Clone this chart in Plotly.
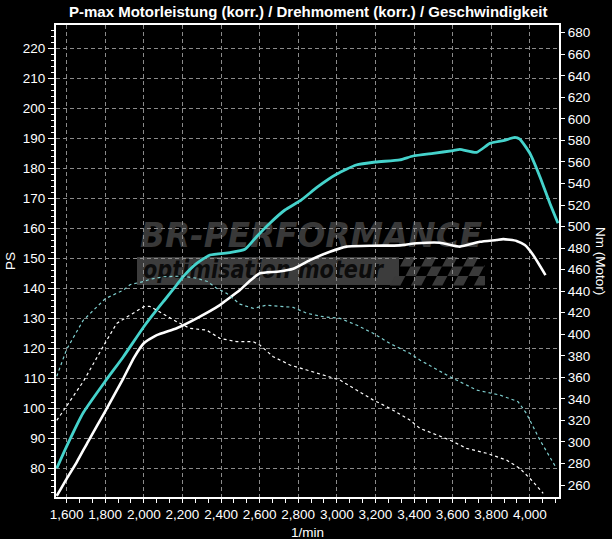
import base64
import plotly.graph_objects as go

# ---------------- data ----------------
rpm_tuned_power = [1549, 1600, 1686, 1800, 1894, 2000, 2084, 2108, 2170, 2204, 2274, 2343, 2446,
                   2524, 2584, 2653, 2731, 2815, 2900, 3000, 3100, 3200, 3326, 3395, 3499, 3603,
                   3637, 3724, 3793, 3862, 3922, 3948, 4000, 4052, 4104, 4146]
ps_tuned_power = [80.0, 87.3, 98.5, 109.0, 117.2, 127.2, 134.2, 136.1, 141.1, 143.9, 148.3, 151.1, 151.9,
                  153.0, 157.2, 161.7, 166.1, 169.4, 173.8, 178.1, 181.1, 182.1, 182.8, 184.1, 185.0, 185.9,
                  186.3, 185.3, 188.3, 189.2, 190.3, 189.7, 185.0, 177.2, 168.3, 161.7]

rpm_stock_power = [1549, 1600, 1652, 1712, 1800, 1894, 1950, 2000, 2067, 2170, 2274, 2394, 2429, 2498,
                   2550, 2601, 2700, 2774, 2861, 2964, 3051, 3188, 3326, 3413, 3534, 3637, 3741,
                   3827, 3862, 3931, 3974, 4017, 4081]
ps_stock_power = [70.8, 76.5, 82.0, 89.0, 99.0, 110.0, 117.0, 121.7, 124.4, 126.7, 130.0, 134.4, 136.1, 139.4,
                  142.5, 145.0, 145.6, 146.5, 149.4, 152.2, 153.9, 154.2, 154.3, 155.0, 155.2, 153.9, 155.5,
                  156.1, 156.4, 155.8, 154.4, 151.1, 144.4]

rpm_tuned_torque = [1549, 1600, 1686, 1800, 1894, 1928, 2000, 2032, 2101, 2200, 2274, 2330, 2377, 2429,
                    2498, 2567, 2636, 2774, 2844, 2929, 3016, 3102, 3188, 3274, 3378, 3430, 3585,
                    3724, 3844, 3939, 3982, 4052, 4138]
nm_tuned_torque = [361, 386, 413, 433, 441, 446, 449, 451, 453.4, 454, 452, 449, 442.7, 438,
                   428, 424, 427, 425, 419.5, 416.3, 414.8, 408.6, 400.9, 391.6, 382.3, 376.1, 360.6,
                   348.2, 343.6, 337.4, 326.6, 301.8, 275.5]

rpm_stock_torque = [1549, 1600, 1686, 1800, 1859, 1894, 2000, 2030, 2086, 2170, 2239, 2325, 2394, 2481,
                    2567, 2601, 2670, 2757, 2844, 2929, 3016, 3102, 3188, 3274, 3378, 3430, 3585,
                    3672, 3776, 3879, 3948, 4008, 4069]
nm_stock_torque = [320, 333, 356, 392, 410, 414, 425.6, 426, 420, 411.7, 405.5, 403.9, 396.2, 393.1,
                   393.1, 390, 379.2, 371.5, 366.8, 362.2, 357.5, 348.2, 339, 331.3, 320.4, 312.7, 301.8,
                   294.1, 289.5, 283.2, 275.5, 264.7, 252.3]

title_text = "P-max Motorleistung (korr.) / Drehmoment (korr.) / Geschwindigkeit"
x_title = "1/min"
left_title = "PS"
right_title = "Nm (Motor)"

# ---------------- styling ----------------
CYAN = "#45d3cc"
CYAN_THIN = "#7fcfcf"
WHITE = "#ffffff"
GRID = "#8a8a8a"
FONT = "Liberation Sans"

fig = go.Figure()
fig.add_trace(go.Scatter(x=rpm_tuned_torque, y=nm_tuned_torque, yaxis="y2", mode="lines",
                         line=dict(color=CYAN_THIN, width=1.2, dash="3px,3px"), hoverinfo="skip"))
fig.add_trace(go.Scatter(x=rpm_stock_torque, y=nm_stock_torque, yaxis="y2", mode="lines",
                         line=dict(color=WHITE, width=1.2, dash="3px,3px"), hoverinfo="skip"))
fig.add_trace(go.Scatter(x=rpm_stock_power, y=ps_stock_power, mode="lines",
                         line=dict(color=WHITE, width=2.6, shape="spline", smoothing=0.5), hoverinfo="skip"))
fig.add_trace(go.Scatter(x=rpm_tuned_power, y=ps_tuned_power, mode="lines",
                         line=dict(color=CYAN, width=2.8, shape="spline", smoothing=0.5), hoverinfo="skip"))

# ---------------- watermark (decoration, SVG image under grid) ----------------
cells = []
cw, ch = 10.5, 9.5
for r in range(3):
    for c in range(9):
        if (r + c) % 2 == 0:
            cells.append(f'<rect x="{c*cw:.1f}" y="{r*ch:.1f}" width="{cw:.1f}" height="{ch:.1f}"/>')
svg = f'''<svg xmlns="http://www.w3.org/2000/svg" width="348" height="68" viewBox="0 0 348 68">
<rect x="0" y="35" width="262" height="28" fill="#3c3c3c"/>
<text x="3" y="25" font-family="DejaVu Sans" font-weight="bold" font-style="italic" font-size="33"
 fill="#383838" textLength="342" lengthAdjust="spacingAndGlyphs">BR-PERFORMANCE</text>
<text x="6" y="56" font-family="DejaVu Sans" font-weight="bold" font-style="italic" font-size="24"
 fill="#0c0c0c" textLength="240" lengthAdjust="spacingAndGlyphs">optimisation moteur</text>
<g transform="translate(268,35) skewX(-28)" fill="#3a3a3a">{''.join(cells)}</g>
</svg>'''
uri = "data:image/svg+xml;base64," + base64.b64encode(svg.encode()).decode()
fig.add_layout_image(dict(source=uri, xref="paper", yref="paper", x=0.161, y=0.5826,
                          sizex=0.692, sizey=0.144, sizing="stretch", xanchor="left",
                          yanchor="top", layer="below"))

fig.update_layout(
    width=612, height=539,
    margin=dict(l=56, r=53, t=25, b=42),
    paper_bgcolor="black", plot_bgcolor="black",
    showlegend=False,
    font=dict(family=FONT, color=WHITE, size=13.5),
    xaxis=dict(range=[1545, 4151], tickmode="linear", tick0=1600, dtick=200, tickformat=",d",
               showgrid=True, gridcolor=GRID, griddash="4px,3px", gridwidth=1,
               showline=True, linecolor=WHITE, linewidth=2, mirror=True,
               ticks="outside", ticklen=4, tickcolor=WHITE, tickwidth=1,
               minor=dict(tick0=1600, dtick=200/3, ticks="outside", ticklen=4, tickcolor=WHITE, showgrid=False),
               zeroline=False, tickfont=dict(size=13.5)),
    yaxis=dict(range=[70.43, 227.77], tickmode="linear", tick0=80, dtick=10,
               showgrid=True, gridcolor=GRID, griddash="4px,3px", gridwidth=1,
               showline=True, linecolor=WHITE, linewidth=2, mirror=True,
               ticks="outside", ticklen=6, tickcolor=WHITE, tickwidth=1,
               minor=dict(tick0=80, dtick=2, ticks="outside", ticklen=3, tickcolor=WHITE, showgrid=False),
               zeroline=False),
    yaxis2=dict(range=[248.9, 687.15], overlaying="y", side="right", tickmode="linear", tick0=260, dtick=20,
                showgrid=False, showline=True, linecolor=WHITE, linewidth=2,
                ticks="outside", ticklen=4, tickcolor=WHITE, tickwidth=1, zeroline=False),
    annotations=[
        dict(text=f"<b>{title_text}</b>", xref="paper", yref="paper", x=0.5, y=1, yshift=14,
             showarrow=False, font=dict(size=15, family=FONT), xanchor="center", yanchor="middle"),
        dict(text=x_title, xref="paper", yref="paper", x=0.5, y=0, yshift=-35,
             showarrow=False, font=dict(size=13.5), xanchor="center", yanchor="middle"),
        dict(text=left_title, xref="paper", yref="paper", x=0, xshift=-46, y=0.5,
             showarrow=False, textangle=-90, font=dict(size=13.5), xanchor="center", yanchor="middle"),
        dict(text=right_title, xref="paper", yref="paper", x=1, xshift=42, y=0.5,
             showarrow=False, textangle=90, font=dict(size=13.5), xanchor="center", yanchor="middle"),
    ],
)

fig.write_html("out.html", config={"displayModeBar": False},
               post_script="document.body.style.margin='0';")
